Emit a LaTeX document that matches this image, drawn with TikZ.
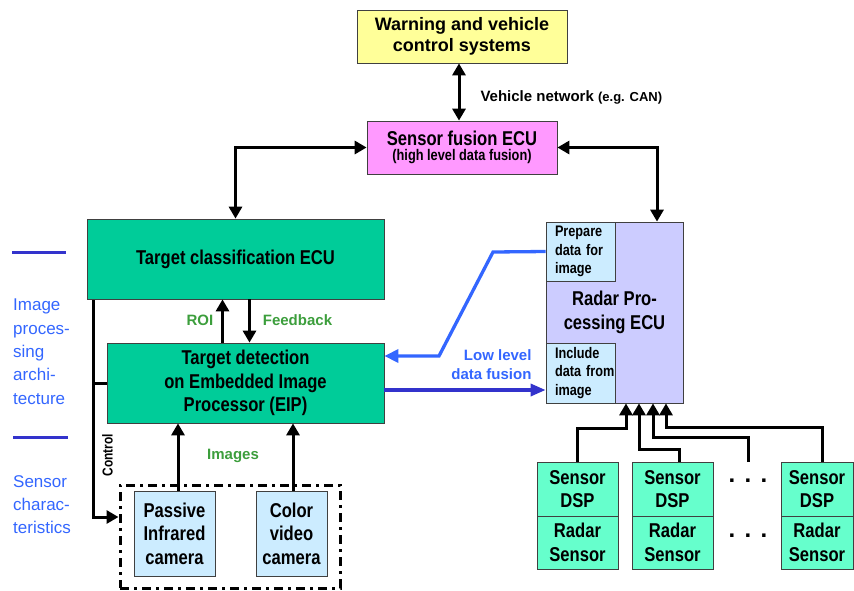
\documentclass[tikz,border=0pt]{standalone}
\usepackage{fontspec}
\setmainfont{Liberation Sans}
\newfontfamily\narrowfont[FakeStretch=0.83]{Liberation Sans}
\usetikzlibrary{arrows.meta}

\definecolor{warnyellow}{HTML}{FFFF99}
\definecolor{fusionpink}{HTML}{FF99FF}
\definecolor{ecugreen}{HTML}{00CC99}
\definecolor{dspgreen}{HTML}{66FFCC}
\definecolor{camblue}{HTML}{CCECFF}
\definecolor{radarblue}{HTML}{CCCCFF}
\definecolor{lblgreen}{HTML}{3C9E3C}
\definecolor{lowblue}{HTML}{3366FF}
\definecolor{darkblue}{HTML}{3333CC}

\tikzset{
	box/.style={draw=black!75, line width=0.75pt, inner sep=0pt, align=center, font=\narrowfont\bfseries\fontsize{20}{23.5}\selectfont},
	smallbox/.style={box, fill=camblue, minimum width=69pt, text width=51pt, inner xsep=9pt, align=left, font=\narrowfont\bfseries\fontsize{15.3}{18.5}\selectfont},
	camgroup/.style={draw, line width=3pt, dash pattern=on 9pt off 5pt on 3pt off 5pt},
	arr/.style={line width=3pt, -{Triangle[length=12pt,width=13pt]}},
	darr/.style={line width=3pt, {Triangle[length=12pt,width=13pt]}-{Triangle[length=12pt,width=13pt]}},
	barr/.style={lowblue, line width=3.3pt, -{Triangle[length=14pt,width=13pt]}},
	dbarr/.style={darkblue, line width=3.3pt, -{Triangle[length=15pt,width=12pt]}},
	lbl/.style={font=\bfseries\fontsize{15}{19}\selectfont, text=lblgreen},
	side/.style={font=\fontsize{17}{23.3}\selectfont, text=lowblue, align=left, inner sep=0pt, anchor=north west},
	sideline/.style={darkblue, line width=3pt},
	dots/.style={font=\bfseries\fontsize{24}{24}\selectfont, inner sep=0pt}
}

\begin{document}
\begin{tikzpicture}[x=1pt, y=-1pt]
	\useasboundingbox (0,0) rectangle (854,590);

	\node[box, fill=warnyellow, minimum width=210pt, minimum height=53pt, font=\bfseries\fontsize{18}{21}\selectfont] (warn) at (462,36.5) {Warning and vehicle\\control systems};
	\node[box, fill=fusionpink, minimum width=190pt, minimum height=53pt, font=\narrowfont\bfseries\fontsize{20}{15}\selectfont] (fusion) at (462,147.5) {Sensor fusion ECU\\{\fontsize{15.4}{15}\selectfont(high level data fusion)}};
	\node[box, fill=ecugreen, minimum width=297pt, minimum height=80pt] (classif) at (235.5,259) {Target classification ECU};
	\node[box, fill=ecugreen, minimum width=277pt, minimum height=80pt] (detect) at (245.5,383) {Target detection\\on Embedded Image\\Processor (EIP)};

	\node[box, fill=radarblue, minimum width=137pt, minimum height=181pt] (radar) at (614.5,312.5) {Radar Pro-\\cessing ECU};
	\node[smallbox, minimum height=59pt] (prep) at (580.5,251.5) {Prepare\\data~for\\image};
	\node[smallbox, minimum height=60pt] (incl) at (580.5,373) {Include\\data~from\\image};

	\node[box, fill=camblue, minimum width=81pt, minimum height=85pt] (ir) at (174.5,533.5) {Passive\\Infrared\\camera};
	\node[box, fill=camblue, minimum width=71pt, minimum height=85pt] (color) at (291.5,533.5) {Color\\video\\camera};
	\node[camgroup, minimum width=220pt, minimum height=103pt] (cams) at (230,536.5) {};

	\foreach \n/\x/\w in {1/577.5/81pt, 2/672.5/81pt, 3/817/72pt} {
		\node[box, fill=dspgreen, minimum width=\w, minimum height=54pt] (dsp\n) at (\x,489) {Sensor\\DSP};
		\node[box, fill=dspgreen, minimum width=\w, minimum height=53pt] (rad\n) at (\x,542.5) {Radar\\Sensor};
	}
	\node[dots] (dotsA) at (748,481) {.\hspace{9.3pt}.\hspace{9.3pt}.};
	\node[dots] (dotsB) at (748,536) {.\hspace{9.3pt}.\hspace{9.3pt}.};

	\draw[darr] ([xshift=-3pt]warn.south) -- ([xshift=-3pt]warn.south |- fusion.north);
	\draw[darr] (fusion.west) -| (classif.north);
	\draw[darr] (fusion.east) -| ([xshift=42.5pt]radar.north);
	\draw[arr] ([xshift=-23pt]detect.north) -- ([xshift=-23pt]detect.north |- classif.south);
	\draw[arr] ([xshift=4pt]detect.north |- classif.south) -- ([xshift=4pt]detect.north);
	\draw[arr] ([xshift=3.5pt]ir.north) -- ([xshift=3.5pt]ir.north |- detect.south);
	\draw[arr] ([xshift=1.5pt]color.north) -- ([xshift=1.5pt]color.north |- detect.south);

	\coordinate (ctrltop) at (93,300);
	\coordinate (ctrlbot) at (93,517);
	\draw[arr] (ctrltop) -- (ctrlbot) -- (ctrlbot -| cams.west);
	\draw[line width=3pt] (detect.west) -- (detect.west -| ctrltop);

	\coordinate (feed3) at (748,462);
	\draw[arr] (dsp1.north) |- ([xshift=11.5pt,yshift=-25pt]radar.south) -- ([xshift=11.5pt]radar.south);
	\draw[arr] ([xshift=6.5pt]dsp2.north) |- ([xshift=24.5pt,yshift=-46pt]radar.south) -- ([xshift=24.5pt]radar.south);
	\draw[arr] (feed3) |- ([xshift=38.5pt,yshift=-34pt]radar.south) -- ([xshift=38.5pt]radar.south);
	\draw[arr] ([xshift=5pt]dsp3.north) |- ([xshift=51.5pt,yshift=-24pt]radar.south) -- ([xshift=51.5pt]radar.south);

	\coordinate (kinkA) at (493,252);
	\coordinate (kinkB) at (439,356);
	\draw[barr] (prep.west) -- (kinkA) -- (kinkB) -- (kinkB -| detect.east);
	\draw[dbarr] ([yshift=-7pt]detect.east) -- ([yshift=-7pt]detect.east -| incl.west);

	\node[anchor=west, font=\bfseries\fontsize{15}{19}\selectfont] (network) at (477,97) {Vehicle network {\fontsize{13}{15}\selectfont(e.g. CAN)}};
	\node[lbl] (roi) at (200,320) {ROI};
	\node[lbl] (feedback) at (297.5,320) {Feedback};
	\node[lbl] (images) at (233,456) {Images};
	\node[lbl, text=lowblue, anchor=east, align=right, font=\bfseries\fontsize{15}{19}\selectfont] (lowlevel) at (535,364.5) {Low level\\data fusion};
	\node[font=\narrowfont\bfseries\fontsize{14.4}{16}\selectfont, rotate=90] (control) at (107.5,455) {Control};

	\draw[sideline] (12,252.5) -- (66,252.5);
	\draw[sideline] (13,437) -- (68,437);
	\node[side] (imgarch) at (13,299) {Image\\proces-\\sing\\archi-\\tecture};
	\node[side] (sensorchar) at (13,475) {Sensor\\charac-\\teristics};
\end{tikzpicture}
\end{document}
